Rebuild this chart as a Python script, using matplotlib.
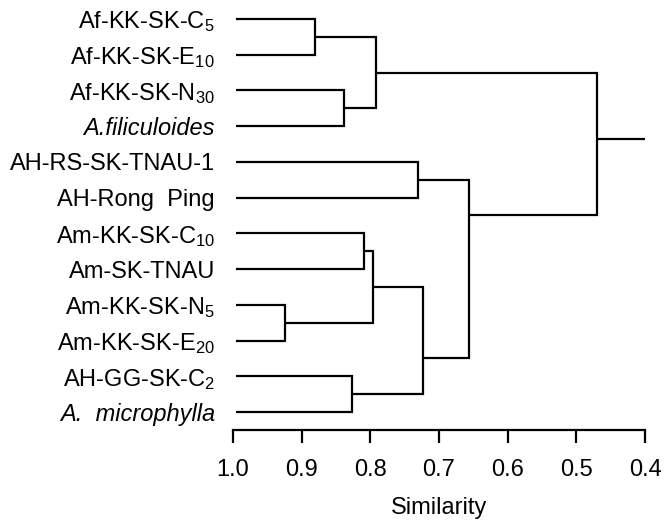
import matplotlib
matplotlib.use("Agg")
import matplotlib.pyplot as plt

plt.rcParams['font.family'] = 'Liberation Sans'
plt.rcParams['mathtext.fontset'] = 'custom'
plt.rcParams['mathtext.rm'] = 'Liberation Sans'
plt.rcParams['mathtext.it'] = 'Liberation Sans:italic'
plt.rcParams['mathtext.default'] = 'regular'

# leaves, top to bottom
leaves = ['Af-KK-SK-C$_{5}$', 'Af-KK-SK-E$_{10}$', 'Af-KK-SK-N$_{30}$', 'A.filiculoides',
          'AH-RS-SK-TNAU-1', 'AH-Rong  Ping', 'Am-KK-SK-C$_{10}$', 'Am-SK-TNAU',
          'Am-KK-SK-N$_{5}$', 'Am-KK-SK-E$_{20}$', 'AH-GG-SK-C$_{2}$', 'A.  microphylla']
italic = [3, 11]

# merges: node id = 12 + index, last one is the root
left_child = [0, 2, 12, 4, 6, 8, 16, 10, 18, 15, 14]
right_child = [1, 3, 13, 5, 7, 9, 17, 11, 19, 20, 21]
similarity = [0.881, 0.839, 0.792, 0.730, 0.809, 0.924, 0.796, 0.826, 0.723, 0.656, 0.470]
node_row = [0.5, 2.5, 1.5, 4.5, 6.5, 8.5, 7.5, 10.5, 9.47, 5.48, 3.37]

n = len(leaves)
xs = [0.995] * n + similarity
ys = list(range(n)) + node_row

fig = plt.figure(figsize=(6.68, 5.22), dpi=100)
ax = fig.add_axes([0.3488, 0.176, 0.6168, 0.822])

for k in range(len(similarity)):
    a, b = left_child[k], right_child[k]
    s = similarity[k]
    ax.plot([xs[a], s, s, xs[b]], [ys[a], ys[a], ys[b], ys[b]], color='black', lw=1.6,
            solid_joinstyle='miter', solid_capstyle='butt')

# root stub
root = n + len(similarity) - 1
ax.plot([xs[root], 0.4], [ys[root], ys[root]], color='black', lw=1.6, solid_capstyle='butt')

ax.set_xlim(1.0, 0.4)
ax.set_ylim(11.5, -0.5)
ax.set_xticks([1.0, 0.9, 0.8, 0.7, 0.6, 0.5, 0.4])
ax.set_xticklabels(['1.0', '0.9', '0.8', '0.7', '0.6', '0.5', '0.4'])
ax.set_yticks(range(n))
ax.set_yticklabels(leaves)
for i in italic:
    ax.get_yticklabels()[i].set_fontstyle('italic')

for side in ['top', 'right', 'left']:
    ax.spines[side].set_visible(False)
ax.spines['bottom'].set_linewidth(1.6)
ax.spines['bottom'].set_bounds(1.0, 0.4)
ax.tick_params(axis='x', length=9.5, width=1.6, pad=11, labelsize=17)
ax.tick_params(axis='y', length=0, pad=13, labelsize=17)
ax.set_xlabel('Similarity', fontsize=17, labelpad=12)

fig.savefig('out.png', dpi=100)
